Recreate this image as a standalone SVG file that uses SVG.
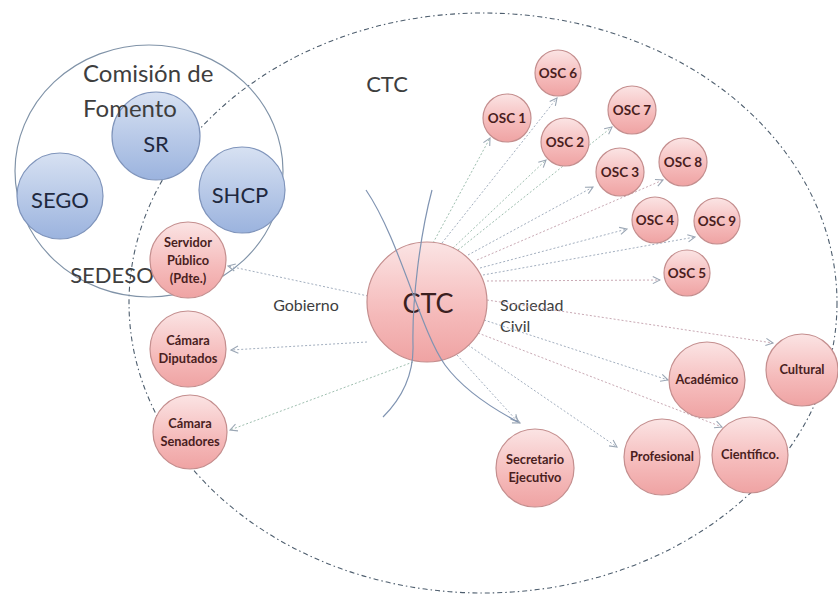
<svg xmlns="http://www.w3.org/2000/svg" width="838" height="595" viewBox="0 0 838 595">
<defs>
<linearGradient id="pink" x1="0" y1="0" x2="0" y2="1">
<stop offset="0" stop-color="#fbe4e4"/>
<stop offset="0.6" stop-color="#f5baba"/>
<stop offset="1" stop-color="#efa3a3"/>
</linearGradient>
<linearGradient id="blue" x1="0" y1="0" x2="0" y2="1">
<stop offset="0" stop-color="#d7e1f2"/>
<stop offset="1" stop-color="#9bb3de"/>
</linearGradient>
<marker id="arr" viewBox="0 0 10 10" refX="9" refY="5" markerWidth="9" markerHeight="9" markerUnits="userSpaceOnUse" orient="auto">
<path d="M1,1 L9,5 L1,9" fill="none" stroke="#9aa6b4" stroke-width="1.2"/>
</marker>
</defs>
<style>
.pk{fill:url(#pink);stroke:#c48e8e;stroke-width:1.2}
.bl{fill:url(#blue);stroke:#7f94bb;stroke-width:1.2}
.t{font-family:Lato,"Liberation Sans",sans-serif;text-anchor:middle}
.pt{font-size:12.8px;font-weight:bold;fill:#4a1e1e}
.ot{font-size:13.5px;font-weight:bold;fill:#4a1e1e}
.bt{font-size:22px;fill:#1f2940}
.lab{font-family:Lato,"Liberation Sans",sans-serif;fill:#3e3e3e}
.dl{fill:none;stroke:#a3afbf;stroke-width:1;stroke-dasharray:2 2;marker-end:url(#arr)}
.dg{stroke:#9fbfb0}
.dp{stroke:#c9a9b4}
.cv{fill:none;stroke:#8094b2;stroke-width:1.2}
</style>
<rect width="838" height="595" fill="#ffffff"/>
<g id="ctc-boundary">
<ellipse cx="483" cy="303" rx="354" ry="290" fill="none" stroke="#4e5e6e" stroke-width="1.1" stroke-dasharray="5 3 1.5 3"/>
</g>
<g id="comision">
<ellipse cx="149" cy="171" rx="134" ry="126" fill="none" stroke="#8093a8" stroke-width="1.2"/>
</g>
<text class="lab" x="387" y="92" font-size="22" text-anchor="middle">CTC</text>
<text class="lab" x="306" y="311" font-size="16" text-anchor="middle">Gobierno</text>
<text class="lab" x="500" y="311" font-size="16">Sociedad</text>
<text class="lab" x="500" y="332" font-size="16">Civil</text>
<g id="connectors">
<path class="dl" d="M368,296 L228,266"/>
<path class="dl" d="M367,342 L231,350"/>
<path class="dl dg" d="M413,362 L230,430"/>
<path class="dl dg" d="M433,243 L490,138"/>
<path class="dl" d="M442,243 L557,98"/>
<path class="dl dg" d="M453,248 L546,160"/>
<path class="dl dg" d="M458,250 L612,127"/>
<path class="dl" d="M468,255 L593,187"/>
<path class="dl dp" d="M477,260 L663,180"/>
<path class="dl" d="M480,268 L627,229"/>
<path class="dl" d="M483,275 L695,237"/>
<path class="dl dp" d="M487,281 L660,280"/>
<path class="dl dp" d="M487,300 L773,343"/>
<path class="dl" d="M484,320 L668,380"/>
<path class="dl dp" d="M478,333 L722,427"/>
<path class="dl" d="M468,345 L617,447"/>
<path class="dl" d="M457,355 L518,422"/>
</g>
<g id="blue-nodes">
<g id="sr"><circle class="bl" cx="156" cy="136" r="44"/><text class="t bt" x="156" y="152">SR</text></g>
<g id="sego"><circle class="bl" cx="60" cy="196" r="43"/><text class="t bt" x="60" y="208">SEGO</text></g>
<g id="shcp"><circle class="bl" cx="242" cy="190" r="43"/><text class="t bt" x="240" y="203">SHCP</text></g>
</g>
<g id="comision-labels">
<text class="lab" x="83" y="82" font-size="24">Comisión de</text>
<text class="lab" x="83" y="117" font-size="24">Fomento</text>
<text class="lab" x="112" y="283" font-size="22" text-anchor="middle">SEDESO</text>
</g>
<g id="servidor"><circle class="pk" cx="188" cy="260" r="38"/>
<text class="t pt" x="188" y="247">Servidor</text><text class="t pt" x="188" y="265">Público</text><text class="t pt" x="188" y="283">(Pdte.)</text></g>
<g id="diputados"><circle class="pk" cx="188" cy="349" r="38"/>
<text class="t pt" x="188" y="345">Cámara</text><text class="t pt" x="188" y="363">Diputados</text></g>
<g id="senadores"><circle class="pk" cx="190" cy="432" r="37"/>
<text class="t pt" x="190" y="428">Cámara</text><text class="t pt" x="190" y="446">Senadores</text></g>
<g id="ctc"><circle class="pk" cx="427" cy="302" r="60"/>
<text class="t" x="428" y="313" font-size="27" fill="#3b2020">CTC</text></g>
<g id="osc1"><circle class="pk" cx="507" cy="118" r="24"/><text class="t ot" x="507" y="123">OSC 1</text></g>
<g id="osc6"><circle class="pk" cx="558" cy="73" r="23"/><text class="t ot" x="558" y="78">OSC 6</text></g>
<g id="osc2"><circle class="pk" cx="565" cy="142" r="24"/><text class="t ot" x="565" y="147">OSC 2</text></g>
<g id="osc7"><circle class="pk" cx="632" cy="110" r="24"/><text class="t ot" x="632" y="115">OSC 7</text></g>
<g id="osc3"><circle class="pk" cx="620" cy="172" r="24"/><text class="t ot" x="620" y="177">OSC 3</text></g>
<g id="osc8"><circle class="pk" cx="683" cy="162" r="24"/><text class="t ot" x="683" y="167">OSC 8</text></g>
<g id="osc4"><circle class="pk" cx="655" cy="220" r="23"/><text class="t ot" x="655" y="225">OSC 4</text></g>
<g id="osc9"><circle class="pk" cx="717" cy="221" r="23"/><text class="t ot" x="717" y="226">OSC 9</text></g>
<g id="osc5"><circle class="pk" cx="687" cy="273" r="23"/><text class="t ot" x="687" y="278">OSC 5</text></g>
<g id="cultural"><circle class="pk" cx="802" cy="370" r="36"/><text class="t pt" x="802" y="374">Cultural</text></g>
<g id="academico"><circle class="pk" cx="707" cy="380" r="38"/><text class="t pt" x="707" y="384">Académico</text></g>
<g id="cientifico"><circle class="pk" cx="750" cy="455" r="38"/><text class="t pt" x="750" y="459">Científico.</text></g>
<g id="profesional"><circle class="pk" cx="662" cy="457" r="38"/><text class="t pt" x="662" y="461">Profesional</text></g>
<g id="secretario"><circle class="pk" cx="535" cy="468" r="39"/>
<text class="t pt" x="535" y="464">Secretario</text><text class="t pt" x="535" y="482">Ejecutivo</text></g>
<g id="curves">
<path class="cv" d="M432,190 C420,235 412,300 413,345 C414,380 398,402 383,417"/>
<path class="cv" d="M366,190 C400,240 420,330 445,365 C465,392 495,410 520,423" marker-end="url(#arr)"/>
</g>
</svg>
